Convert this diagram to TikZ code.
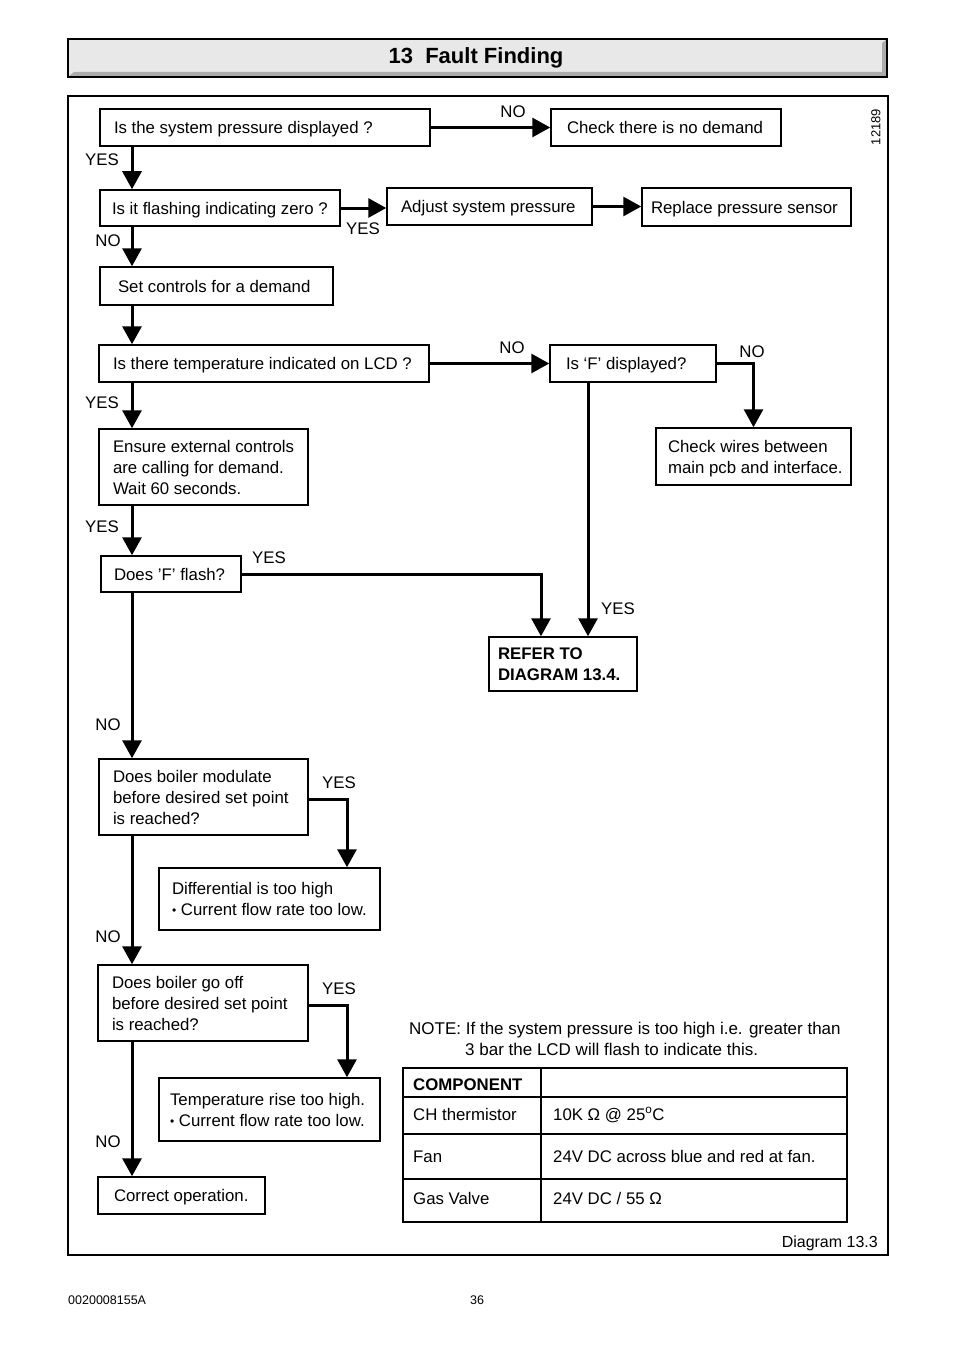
\documentclass[tikz,border=0pt]{standalone}
\usepackage{fontspec}
\setmainfont{Liberation Sans}
\usetikzlibrary{arrows.meta}
\newcommand\lft[2]{\raisebox{-2pt}[\height][\depth]{\makebox[#1][l]{\begin{tabular}{@{}l@{}}#2\end{tabular}}}}
\newcommand\bul{\raisebox{0.8pt}{\fontsize{12}{12}\selectfont •}}
\begin{document}
\begin{tikzpicture}[x=1pt,y=-1pt,
  txt/.style={font=\fontsize{16.8}{21}\selectfont},
  box/.style={draw, line width=1.5pt, txt, inner sep=0pt},
  conn/.style={line width=3pt, -{Triangle[length=18pt,width=19pt]}},
  lbl/.style={txt, inner sep=0pt},
  tline/.style={line width=1.5pt}]
\useasboundingbox (0,0) rectangle (954,1351);
\fill[white] (0,0) rectangle (954,1351);
% title bar
\fill[gray!18] (68,39) rectangle (887,77);
\fill[gray!65] (69,76) -- (74,72) -- (882,72) -- (882,43) -- (886,40) -- (886,76) -- cycle;
\draw[line width=1.2pt] (68,39) rectangle (887,77);
\node[font=\bfseries\fontsize{22}{26}\selectfont] (title) at (476,58) {13~~Fault Finding};
% main frame
\draw[line width=1.2pt] (68,96) rectangle (888,1255);
\node[rotate=90, font=\fontsize{13}{15}\selectfont] (num) at (876,127) {12189};
\coordinate (sp) at (132,0);
\coordinate (xa) at (541,0);
\coordinate (xb) at (588,0);
\coordinate (xy) at (347,0);
% boxes
\node[box, minimum width=330pt, minimum height=37pt] (q1) at (265,127.5) {\lft{302pt}{Is the system pressure displayed ?}};
\node[box, minimum width=230pt, minimum height=37pt] (c2) at (666,127.5) {\lft{198pt}{Check there is no demand}};
\node[box, minimum width=240pt, minimum height=36pt] (q3) at (220,208) {\lft{216pt}{Is it flashing indicating zero ?}};
\node[box, minimum width=205pt, minimum height=37pt] (a4) at (489.5,206.5) {\lft{177pt}{Adjust system pressure}};
\node[box, minimum width=209pt, minimum height=38pt] (r5) at (746.5,207) {\lft{191pt}{Replace pressure sensor}};
\node[box, minimum width=233pt, minimum height=38pt] (s6) at (216.5,286) {\lft{197pt}{Set controls for a demand}};
\node[box, minimum width=330pt, minimum height=37pt] (q7) at (264,363.5) {\lft{302pt}{Is there temperature indicated on LCD ?}};
\node[box, minimum width=166pt, minimum height=37pt] (f8) at (633,363.5) {\lft{134pt}{Is ‘F’ displayed?}};
\node[box, minimum width=195pt, minimum height=57pt] (w9) at (753.5,456.5) {\lft{171pt}{Check wires between\\main pcb and interface.}};
\node[box, minimum width=209pt, minimum height=76pt] (e10) at (203.5,467) {\lft{181pt}{Ensure external controls\\are calling for demand.\\Wait 60 seconds.}};
\node[box, minimum width=140pt, minimum height=36pt] (f11) at (171,574) {\lft{114pt}{Does ’F’ flash?}};
\node[box, minimum width=148pt, minimum height=54pt, font=\bfseries\fontsize{16.8}{21}\selectfont] (r12) at (563,664) {\lft{130pt}{REFER TO\\DIAGRAM 13.4.}};
\node[box, minimum width=209pt, minimum height=76pt] (q13) at (203.5,797) {\lft{181pt}{Does boiler modulate\\before desired set point\\is reached?}};
\node[box, minimum width=221pt, minimum height=62pt] (d14) at (269.5,899) {\lft{195pt}{Differential is too high\\\bul{} Current flow rate too low.}};
\node[box, minimum width=210pt, minimum height=76pt] (q15) at (203,1003) {\lft{182pt}{Does boiler go off\\before desired set point\\is reached?}};
\node[box, minimum width=221pt, minimum height=63pt] (t16) at (269.5,1109.5) {\lft{199pt}{Temperature rise too high.\\\bul{} Current flow rate too low.}};
\node[box, minimum width=167pt, minimum height=37pt] (ok17) at (181.5,1195.5) {\lft{135pt}{Correct operation.}};
% connectors
\draw[conn] (q1.east) -- (c2.west);
\draw[conn] (q1.south -| sp) -- (q3.north -| sp);
\draw[conn] (q3.east) -- (q3.east -| a4.west);
\draw[conn] (a4.east) -- (a4.east -| r5.west);
\draw[conn] (q3.south -| sp) -- (s6.north -| sp);
\draw[conn] (s6.south -| sp) -- (q7.north -| sp);
\draw[conn] (q7.east) -- (f8.west);
\draw[conn] (f8.east) -| (w9.north);
\draw[conn] (q7.south -| sp) -- (e10.north -| sp);
\draw[conn] (e10.south -| sp) -- (f11.north -| sp);
\draw[conn] (f11.east) -| (r12.north -| xa);
\draw[conn] (f8.south -| xb) -- (r12.north -| xb);
\draw[conn] (f11.south -| sp) -- (q13.north -| sp);
\draw[conn] ([yshift=-2pt]q13.east) -| (d14.north -| xy);
\draw[conn] (q13.south -| sp) -- (q15.north -| sp);
\draw[conn] ([yshift=-2pt]q15.east) -| (t16.north -| xy);
\draw[conn] (q15.south -| sp) -- (ok17.north -| sp);
% labels
\node[lbl] (l1) at (513,112) {NO};
\node[lbl] (l2) at (102,160) {YES};
\node[lbl] (l3) at (363,229) {YES};
\node[lbl] (l4) at (108,241) {NO};
\node[lbl] (l5) at (512,348) {NO};
\node[lbl] (l6) at (752,352) {NO};
\node[lbl] (l7) at (102,403) {YES};
\node[lbl] (l8) at (102,527) {YES};
\node[lbl] (l9) at (269,558) {YES};
\node[lbl] (l10) at (618,609) {YES};
\node[lbl] (l11) at (108,725) {NO};
\node[lbl] (l12) at (339,783) {YES};
\node[lbl] (l13) at (108,937) {NO};
\node[lbl] (l14) at (339,989) {YES};
\node[lbl] (l15) at (108,1142) {NO};
% note
\node[lbl, anchor=base west, font=\fontsize{17}{21}\selectfont] (n1) at (409,1034) {NOTE: If the system pressure is too high i.e. greater than};
\node[lbl, anchor=base west, font=\fontsize{17}{21}\selectfont] (n2) at (465,1055) {3 bar the LCD will flash to indicate this.};
% table
\draw[tline] (403,1068) rectangle (847,1222);
\draw[tline] (541,1068) -- (541,1222);
\draw[tline] (403,1097) -- (847,1097);
\draw[tline] (403,1134) -- (847,1134);
\draw[tline] (403,1179) -- (847,1179);
\node[lbl, anchor=base west, font=\bfseries\fontsize{16.8}{21}\selectfont] (t1) at (413,1090) {COMPONENT};
\node[lbl, anchor=base west] (t2) at (413,1120) {CH thermistor};
\node[lbl, anchor=base west] (t3) at (553,1120) {10K Ω @ 25\textsuperscript{o}C};
\node[lbl, anchor=base west] (t4) at (413,1162) {Fan};
\node[lbl, anchor=base west] (t5) at (553,1162) {24V DC across blue and red at fan.};
\node[lbl, anchor=base west] (t6) at (413,1204) {Gas Valve};
\node[lbl, anchor=base west] (t7) at (553,1204) {24V DC / 55 Ω};
\node[lbl, anchor=base east, font=\fontsize{16}{19}\selectfont] (dg) at (878,1247) {Diagram 13.3};
% footer
\node[lbl, anchor=base west, font=\fontsize{12.5}{15}\selectfont] (f1) at (68,1304) {0020008155A};
\node[lbl, anchor=base, font=\fontsize{12.5}{15}\selectfont] (f2) at (477,1304) {36};
\end{tikzpicture}
\end{document}
